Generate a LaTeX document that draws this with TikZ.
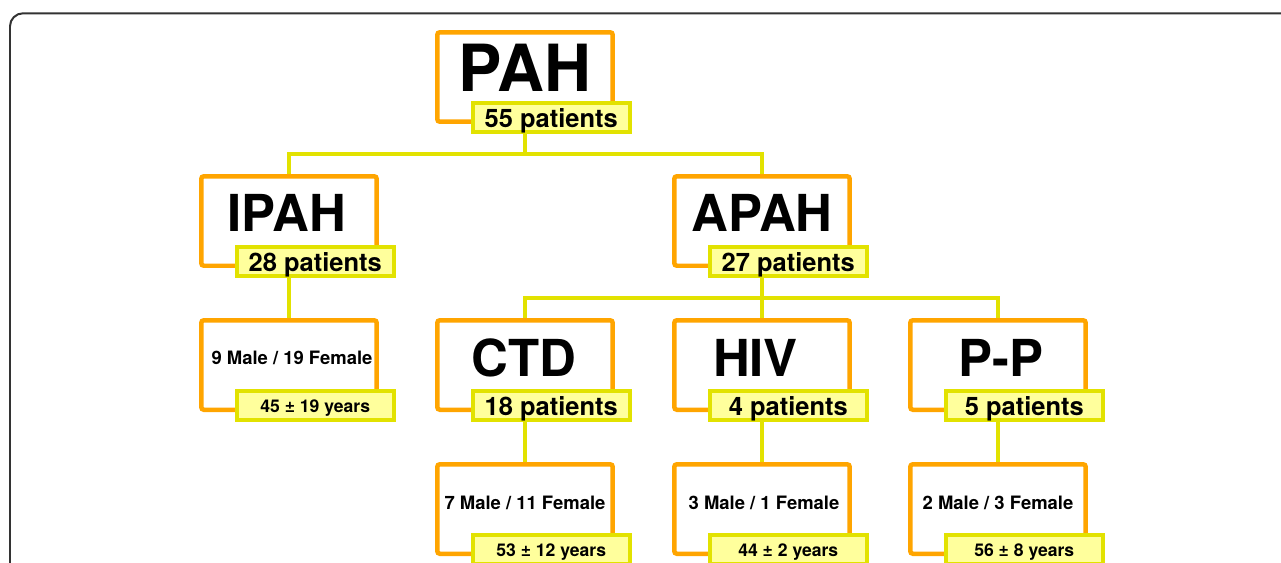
\documentclass[tikz,border=0pt]{standalone}
\usepackage{fontspec}
\setmainfont{TeX Gyre Heros}
\usetikzlibrary{calc,positioning,backgrounds}
\definecolor{boxorange}{HTML}{FFA500}
\definecolor{tagyellow}{HTML}{E2E200}
\definecolor{tagfill}{HTML}{FFFF9C}
\definecolor{framegray}{HTML}{333333}

\begin{document}
\begin{tikzpicture}[
    x=0.02cm, y=-0.02cm,
    grp/.style={draw=boxorange, fill=white, line width=0.09cm, rounded corners=1.5pt,
                minimum width=3.51cm, minimum height=1.79cm, inner sep=0pt, outer sep=0pt},
    tag/.style={draw=tagyellow, fill=tagfill, line width=0.08cm, inner sep=0pt, outer sep=0pt,
                minimum width=3.14cm, minimum height=0.58cm, anchor=north west, text depth=0pt},
    count/.style={tag, text height=11pt, font=\bfseries\fontsize{14.5}{16}\selectfont},
    age/.style={tag, text height=7.4pt, font=\bfseries\fontsize{10}{12}\selectfont},
    link/.style={draw=tagyellow, line width=0.07cm},
    big/.style={font=\bfseries\fontsize{37}{40}\selectfont},
    mid/.style={font=\bfseries\fontsize{29}{32}\selectfont},
    sex/.style={font=\bfseries\fontsize{10.5}{12}\selectfont},
]

% ── Canvas and frame ────────────────────────────────────────────
\useasboundingbox (0,0) rectangle (1281,562);
\clip (0,0) rectangle (1281,562);
\draw[framegray, line width=0.04cm, rounded corners=0.26cm]
  (1300,13.3) -- (10,13.3) -- (10,590);

% ── PAH ─────────────────────────────────────────────────────────
\node[grp] (pah) at (525,77) {};
\node[big] (pahname) at (525,67.5) {PAH};
\node[count] (pahn) at ($(pah.south west)+(35.5,-18.7)$) {55 patients};

% ── IPAH ────────────────────────────────────────────────────────
\node[grp] (ipah) at (289,221) {};
\node[mid] (ipahname) at (287,212.5) {IPAH};
\node[count] (ipahn) at ($(ipah.south west)+(35.5,-18.7)$) {28 patients};

\node[grp] (ipahsex) at (289,365) {};
\node[sex] (ipahsextxt) at (292,358) {9 Male / 19 Female};
\node[age] (ipahage) at ($(ipahsex.south west)+(35.5,-18.7)$) {45 ± 19 years};

% ── APAH ────────────────────────────────────────────────────────
\node[grp] (apah) at (762,221) {};
\node[mid] (apahname) at (762,212.5) {APAH};
\node[count] (apahn) at ($(apah.south west)+(35.5,-18.7)$) {27 patients};

% ── CTD / HIV / P-P ─────────────────────────────────────────────
\node[grp] (ctd) at (525,365) {};
\node[mid] (ctdname) at (524,358) {CTD};
\node[count] (ctdn) at ($(ctd.south west)+(35.5,-18.7)$) {18 patients};

\node[grp] (hiv) at (762,365) {};
\node[mid] (hivname) at (755.5,358) {HIV};
\node[count] (hivn) at ($(hiv.south west)+(35.5,-18.7)$) {4 patients};

\node[grp] (pp) at (998,365) {};
\node[mid] (ppname) at (1001,358) {P-P};
\node[count] (ppn) at ($(pp.south west)+(35.5,-18.7)$) {5 patients};

% ── Demographics ────────────────────────────────────────────────
\node[grp] (ctdsex) at (525,509) {};
\node[sex] (ctdsextxt) at (525,503) {7 Male / 11 Female};
\node[age] (ctdage) at ($(ctdsex.south west)+(35.5,-18.7)$) {53 ± 12 years};

\node[grp] (hivsex) at (762,509) {};
\node[sex] (hivsextxt) at (764,503) {3 Male / 1 Female};
\node[age] (hivage) at ($(hivsex.south west)+(35.5,-18.7)$) {44 ± 2 years};

\node[grp] (ppsex) at (998,509) {};
\node[sex] (ppsextxt) at (998,503) {2 Male / 3 Female};
\node[age] (ppage) at ($(ppsex.south west)+(35.5,-18.7)$) {56 ± 8 years};

% ── Connectors ──────────────────────────────────────────────────
\begin{scope}[on background layer]
  \draw[link] (pahn.south -| pah.south) -- ++(0,22) -| (ipah.north);
  \draw[link] (pahn.south -| pah.south) -- ++(0,22) -| (apah.north);
  \draw[link] (ipahn.south -| ipah.south) -- (ipahsex.north);
  \draw[link] (apahn.south -| apah.south) -- ++(0,22) -| (ctd.north);
  \draw[link] (apahn.south -| apah.south) -- (hiv.north);
  \draw[link] (apahn.south -| apah.south) -- ++(0,22) -| (pp.north);
  \draw[link] (ctdn.south -| ctd.south) -- (ctdsex.north);
  \draw[link] (hivn.south -| hiv.south) -- (hivsex.north);
  \draw[link] (ppn.south -| pp.south) -- (ppsex.north);
\end{scope}

\end{tikzpicture}
\end{document}
